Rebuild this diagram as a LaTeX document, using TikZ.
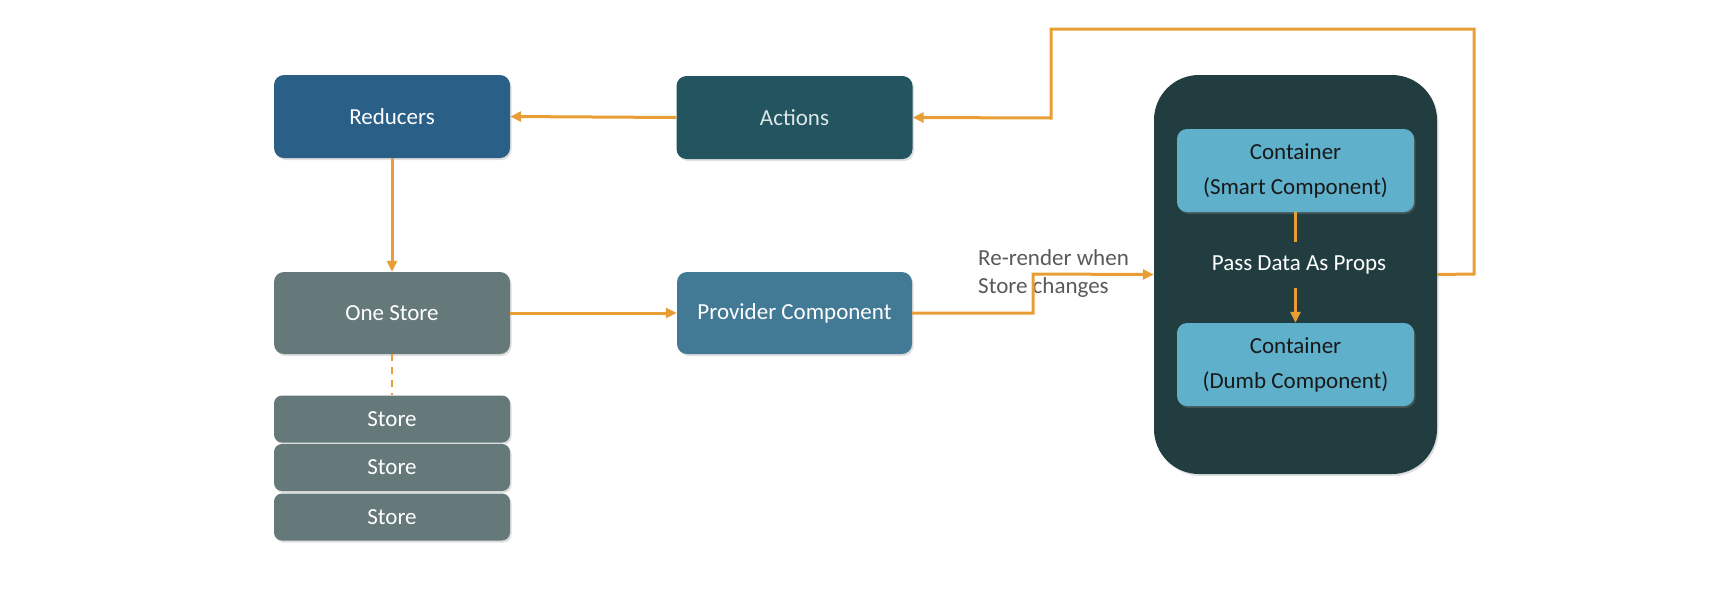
\documentclass[tikz,border=0pt]{standalone}
\usepackage{fontspec}
\setmainfont{Carlito}
\usetikzlibrary{arrows.meta,shadows}
\definecolor{cReducers}{HTML}{2A5F87}
\definecolor{cActions}{HTML}{225560}
\definecolor{cStore}{HTML}{65787A}
\definecolor{cProvider}{HTML}{427A96}
\definecolor{cBig}{HTML}{223D3F}
\definecolor{cCont}{HTML}{5EB0CB}
\definecolor{cArrow}{HTML}{E89E35}
\definecolor{cLabel}{HTML}{595959}
\tikzset{
  box/.style={rectangle, rounded corners=10pt, minimum width=236pt, minimum height=83pt,
    text=white, font=\fontsize{23}{28}\selectfont, inner sep=0pt,
    drop shadow={opacity=0.25, shadow xshift=1.5pt, shadow yshift=-2pt}},
  storebox/.style={box, fill=cStore, minimum height=47pt, rounded corners=8pt},
  contbox/.style={box, fill=cCont, minimum width=237pt, text=black!90, align=center,
    font=\fontsize{23}{35}\selectfont, drop shadow={opacity=0.2, shadow xshift=1pt, shadow yshift=-1.5pt}},
  flow/.style={draw=cArrow, line width=3pt, -{Triangle[length=11pt,width=10pt]}},
  plainflow/.style={draw=cArrow, line width=3pt},
}
\begin{document}
\begin{tikzpicture}[x=1pt,y=-1pt]
\useasboundingbox (0,0) rectangle (1712,590);
% main nodes
\node[box, fill=cReducers] (reducers) at (392,116.5) {Reducers};
\node[box, fill=cActions, text=white!85!cActions] (actions) at (794.5,117.5) {Actions};
\node[box, fill=cStore, minimum height=82pt] (onestore) at (392,313) {One Store};
\node[box, fill=cProvider, minimum width=235pt, minimum height=82pt] (provider) at (794.5,313) {Provider Component};
\node[storebox] (store1) at (392,419) {Store};
\node[storebox] (store2) at (392,467.5) {Store};
\node[storebox] (store3) at (392,517) {Store};
% big container
\node[rectangle, rounded corners=45pt, fill=cBig, minimum width=283pt, minimum height=399pt,
  drop shadow={opacity=0.25, shadow xshift=1.5pt, shadow yshift=-2pt}] (big) at (1295.5,274.5) {};
\node[contbox] (smart) at (1295.5,170.5) {Container\\(Smart Component)};
\node[contbox] (dumb) at (1295.5,364.5) {Container\\(Dumb Component)};
\node[text=white, font=\fontsize{23}{28}\selectfont, minimum height=45pt, inner sep=0pt] (pass) at (1299,265) {Pass Data As Props};
% label
\node[anchor=west, align=left, text=cLabel, font=\fontsize{23}{28}\selectfont, inner sep=0pt] (lbl) at (978,273) {Re-render when\\Store changes};
% coordinates
\coordinate (p1) at (1033,274);
\coordinate (f1) at (1474,274);
\coordinate (f2) at (1474,29);
\coordinate (f3) at (1051,29);
\coordinate (f4) at (1051,118);
% connectors
\draw[flow] (actions.west) -- (reducers.east);
\draw[flow] (reducers.south) -- (onestore.north);
\draw[flow] (onestore.east) -- (provider.west);
\draw[draw=cArrow, line width=2pt, dash pattern=on 7pt off 6pt] (onestore.south) -- (store1.north);
\draw[flow] (provider.east) -| (p1) -- (big.west);
\draw[flow] (big.east) -- (f1) -- (f2) -- (f3) -- (f4) -- (actions.east);
\draw[plainflow] (smart.south) -- (pass.north -| smart.south);
\draw[flow] (pass.south -| dumb.north) -- (dumb.north);
\end{tikzpicture}
\end{document}
